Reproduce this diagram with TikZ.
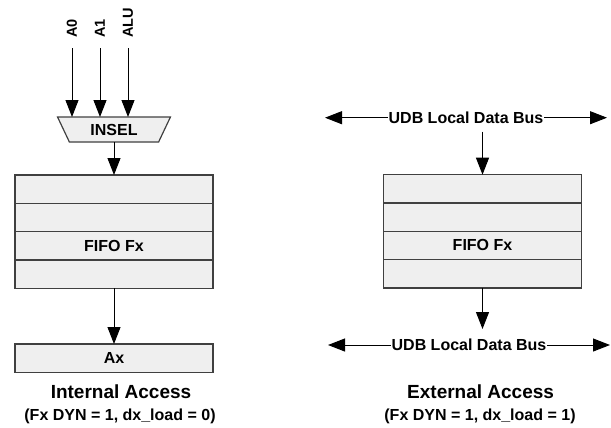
\documentclass[tikz,border=0pt]{standalone}
\usepackage{fontspec}
\setmainfont{Liberation Sans}
\usetikzlibrary{positioning,shapes.geometric,arrows.meta}
\definecolor{cellfill}{HTML}{EFEFEF}
\definecolor{celldraw}{HTML}{404040}
\begin{document}
\begin{tikzpicture}[
x=1bp, y=-1bp,
font=\fontsize{16bp}{19bp}\selectfont\bfseries,
cell/.style={draw=celldraw, fill=cellfill, line width=1.2bp, minimum width=198bp, minimum height=28.3bp, inner sep=0pt, outer sep=0pt},
sig/.style={black, line width=1bp, -{Triangle[width=13bp,length=17bp]}},
bus/.style={black, line width=1bp, {Triangle[width=13bp,length=17bp]}-{Triangle[width=13bp,length=17bp]}},
inlbl/.style={rotate=90, anchor=west, inner sep=0pt, font=\fontsize{14.5bp}{17bp}\selectfont\bfseries},
title/.style={font=\fontsize{19bp}{22bp}\selectfont\bfseries, inner sep=0pt},
note/.style={inner sep=0pt}
]
\useasboundingbox (0,0) rectangle (611,427);

% internal access
\node[trapezium, trapezium angle=60.75, shape border rotate=180, trapezium stretches=true,
  draw=celldraw, fill=cellfill, line width=1.2bp, minimum width=113bp, minimum height=25bp,
  inner sep=0pt, outer sep=0pt, text depth=-2bp, anchor=north] (insel) at (114,117) {INSEL};
\node[cell, anchor=north] (fifoA1) at (114,175) {};
\node[cell, below=0pt of fifoA1] (fifoA2) {};
\node[cell, below=0pt of fifoA2] (fifoA3) {FIFO Fx};
\node[cell, below=0pt of fifoA3] (fifoA4) {};
\node[cell, anchor=north] (ax) at (114,344) {Ax};

\foreach \n/\x in {A0/72, A1/100, ALU/128} {
  \node[inlbl] (in\n) at (\x,37.7) {\n};
  \draw[sig] ([yshift=-10.5bp]in\n.west) -- (in\n.west |- insel.north);
}
\draw[sig] (insel.south) -- (fifoA1.north);
\draw[sig] (fifoA4.south) -- (ax.north);

\node[title, anchor=base] (intTitle) at (121,398.3) {Internal Access};
\node[note, anchor=base] (intNote) at (120,420) {(Fx DYN = 1, dx\_load = 0)};

% external access
\coordinate (busTw) at (325,117.7);
\coordinate (busTe) at (607,117.7);
\draw[bus] (busTw) -- node[fill=white, inner xsep=1bp, inner ysep=0pt] (busTlbl) {UDB Local Data Bus} (busTe);

\node[cell, anchor=north] (fifoB1) at (482.5,174.7) {};
\node[cell, below=0pt of fifoB1] (fifoB2) {};
\node[cell, below=0pt of fifoB2] (fifoB3) {FIFO Fx};
\node[cell, below=0pt of fifoB3] (fifoB4) {};

\coordinate (tapT) at (482.5,131.7);
\coordinate (tapB) at (482.5,329);
\draw[sig] (tapT) -- (fifoB1.north);
\draw[sig] (fifoB4.south) -- (tapB);

\coordinate (busBw) at (328,345);
\coordinate (busBe) at (610,345);
\draw[bus] (busBw) -- node[fill=white, inner xsep=1bp, inner ysep=0pt] (busBlbl) {UDB Local Data Bus} (busBe);

\node[title, anchor=base] (extTitle) at (480.6,398.3) {External Access};
\node[note, anchor=base] (extNote) at (480,420) {(Fx DYN = 1, dx\_load = 1)};
\end{tikzpicture}
\end{document}
